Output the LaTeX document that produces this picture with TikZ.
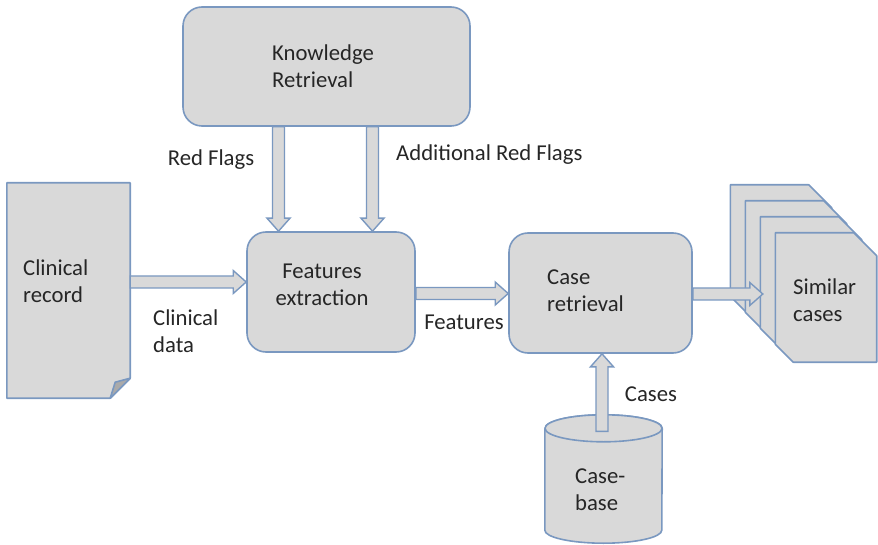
\documentclass[tikz,border=0pt]{standalone}
\usepackage{fontspec}
\setmainfont{Carlito}
\usetikzlibrary{calc}

\definecolor{boxfill}{RGB}{217,217,217}
\definecolor{edgeblue}{RGB}{122,152,192}
\definecolor{flapgray}{RGB}{170,170,170}

\tikzset{
  box/.style={draw=edgeblue, fill=boxfill, line width=1.6pt, rounded corners=19pt, inner sep=0pt},
  frame/.style={draw=none, inner sep=0pt},
  shapeline/.style={draw=edgeblue, fill=boxfill, line width=1.6pt, line join=round},
  arrowbody/.style={draw=edgeblue, fill=boxfill, line width=1.4pt, line join=miter},
  txt/.style={font=\fontsize{22.7}{27}\selectfont, inner sep=0pt, align=left, text=black!85},
}

% wide block arrow from #1 to #2 (tip at #2)
\newcommand\blockarrow[2]{%
  \coordinate (bahead) at ($(#2)!13pt!(#1)$);
  \draw[arrowbody] ($(#1)!6pt!90:(#2)$) -- ($(bahead)!6pt!90:(#2)$)
    -- ($(bahead)!11.5pt!90:(#2)$) -- (#2) -- ($(bahead)!11.5pt!-90:(#2)$)
    -- ($(bahead)!6pt!-90:(#2)$) -- ($(#1)!6pt!-90:(#2)$) -- cycle;}

\begin{document}
\begin{tikzpicture}[x=1pt, y=-1pt]
\useasboundingbox (0,0) rectangle (878,545);

% process boxes
\node[box, minimum width=287pt, minimum height=119pt] (kr) at (326.5,66.5) {};
\node[box, minimum width=168pt, minimum height=120pt] (fe) at (331,292) {};
\node[box, minimum width=183pt, minimum height=120pt] (crt) at (600.5,293) {};

% clinical record: page with folded corner
\node[frame, minimum width=123pt, minimum height=215pt] (cr) at (68.5,290.5) {};
\draw[shapeline] (cr.north west) -- (cr.north east) -- ([yshift=20pt]cr.south east)
  -- ([xshift=-20pt]cr.south east) -- (cr.south west) -- cycle;
\draw[shapeline, fill=flapgray] ([yshift=20pt]cr.south east) -- ([xshift=-15pt,yshift=16pt]cr.south east)
  -- ([xshift=-20pt]cr.south east) -- cycle;

% case-base cylinder
\node[frame, minimum width=117pt, minimum height=128pt] (cb) at (603.5,479) {};
\coordinate (cbtop) at ([yshift=-13.5pt]cb.north);
\coordinate (cbbot) at ([yshift=13pt]cb.south);
\draw[shapeline] (cbtop -| cb.west) -- (cbbot -| cb.west)
  arc[start angle=180, end angle=360, x radius=58.5pt, y radius=13pt]
  -- (cbtop -| cb.east)
  arc[start angle=0, end angle=180, x radius=58.5pt, y radius=13.5pt];
\draw[shapeline] (cbtop) ellipse[x radius=58.5pt, y radius=13.5pt];

% similar cases: stack of snipped sheets
\node[frame, minimum width=101pt, minimum height=129pt] (sc) at (826,297.5) {};
\foreach \k in {3,2,1,0}{
  \draw[shapeline]
    ([xshift=-15*\k pt, yshift=16*\k pt]sc.north west)
    -- ([xshift=-15*\k pt-23pt, yshift=16*\k pt]sc.north east)
    -- ([xshift=-15*\k pt, yshift=16*\k pt-23pt]sc.north east)
    -- ([xshift=-15*\k pt, yshift=16*\k pt]sc.south east)
    -- ([xshift=-15*\k pt+18pt, yshift=16*\k pt]sc.south west)
    -- ([xshift=-15*\k pt, yshift=16*\k pt+18pt]sc.south west)
    -- cycle;
}

% connector end points
\coordinate (rfa) at ([xshift=-48pt]kr.south);
\coordinate (rfb) at (rfa |- fe.north);
\coordinate (ada) at ([xshift=46pt]kr.south);
\coordinate (adb) at (ada |- fe.north);
\coordinate (cda) at ([yshift=8.5pt]cr.east);
\coordinate (cdb) at (fe.west |- cda);
\coordinate (fta) at ([yshift=-1.5pt]fe.east);
\coordinate (ftb) at (crt.west |- fta);
\coordinate (sca) at ([yshift=-1pt]crt.east);
\coordinate (sctip) at ([xshift=-12.5pt]sc.west |- sca);
\coordinate (csa) at ([xshift=-1.5pt, yshift=-3pt]cbtop);
\coordinate (csb) at (csa |- crt.south);

% block arrows
\blockarrow{rfa}{rfb}
\blockarrow{ada}{adb}
\blockarrow{cda}{cdb}
\blockarrow{fta}{ftb}
\blockarrow{sca}{sctip}
\blockarrow{csa}{csb}

% texts
\node[txt, anchor=west] (krt) at (272,66.5) {Knowledge\\Retrieval};
\node[txt, anchor=center, align=center] (fet) at (322,285) {Features\\extraction};
\node[txt, anchor=west] (crtt) at (547,291) {Case\\retrieval};
\node[txt, anchor=west] (crt2) at (23,281.5) {Clinical\\record};
\node[txt, anchor=west] (sct) at (793,300) {Similar\\cases};
\node[txt, anchor=west] (cbt) at (575,490) {Case-\\base};
\node[txt, anchor=center] (lrf) at (211,160) {Red Flags};
\node[txt, anchor=west] (larf) at (396,155) {Additional Red Flags};
\node[txt, anchor=west] (lcd) at (153,331) {Clinical\\data};
\node[txt, anchor=center] (lft) at (464,322) {Features};
\node[txt, anchor=center] (lcs) at (651,394) {Cases};
\end{tikzpicture}
\end{document}
